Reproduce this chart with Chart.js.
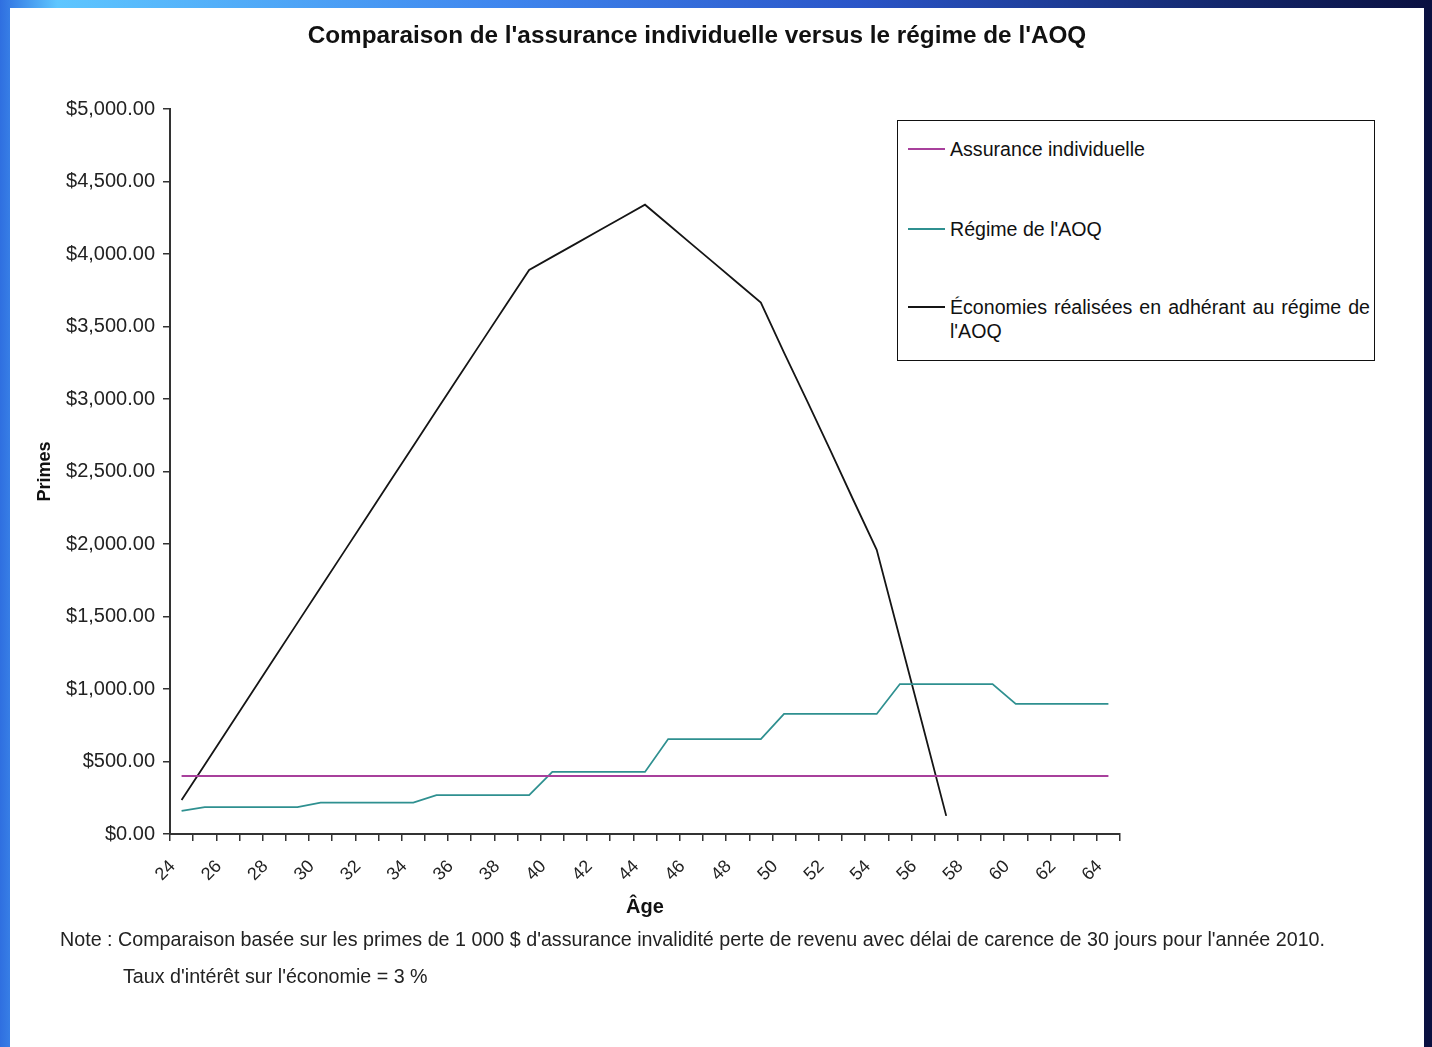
<!DOCTYPE html>
<html>
<head>
<meta charset="utf-8">
<script src="https://cdn.jsdelivr.net/npm/chart.js@4.4.1/dist/chart.umd.min.js"></script>
<style>
  html, body { margin: 0; padding: 0; }
  body {
    width: 1432px; height: 1047px; overflow: hidden; position: relative;
    background: linear-gradient(90deg, #2f6fe0 0%, #5ec6ff 4%, #3f86ee 35%, #2a55c8 60%, #14286e 85%, #0a1040 100%);
    font-family: "Liberation Sans", Arial, sans-serif;
  }
  #panel { position: absolute; left: 10px; top: 8px; right: 8px; bottom: 0; background: #fff; }
  #wrap { position: absolute; left: 0; top: 0; width: 1432px; height: 1047px; }
  #title { position: absolute; left: 0; width: 1394px; top: 21px; text-align: center; font-weight: bold; font-size: 24.3px; color: #111; }
  #legend { position: absolute; left: 897px; top: 120px; width: 476px; height: 239px; border: 1px solid #111; background: #fff; }
  .item { position: absolute; left: 10px; font-size: 19.6px; color: #111; }
  .item .swatch { position: absolute; left: 0; top: 11px; width: 37px; height: 2px; }
  .item .txt { position: absolute; left: 42px; width: 420px; line-height: 24px; text-align: justify; }
  .note { position: absolute; font-size: 19.7px; color: #222; }
</style>
</head>
<body>
<div id="panel"></div>
<div id="wrap"><canvas id="chart" width="1432" height="1047"></canvas></div>
<div id="title">Comparaison de l'assurance individuelle versus le régime de l'AOQ</div>
<div id="legend"></div>
<div class="note" style="left:60px; top:928px;">Note : Comparaison basée sur les primes de 1 000 $ d'assurance invalidité perte de revenu avec délai de carence de 30 jours pour l'année 2010.</div>
<div class="note" style="left:123px; top:965px;">Taux d'intérêt sur l'économie = 3 %</div>
<script>
// ages (axe des x)
var ages = [24,25,26,27,28,29,30,31,32,33,34,35,36,37,38,39,40,41,42,43,44,45,46,47,48,49,50,51,52,53,54,55,56,57,58,59,60,61,62,63,64];

// primes
var assurance = [400,400,400,400,400,400,400,400,400,400,400,400,400,400,400,400,400,400,400,400,400,400,400,400,400,400,400,400,400,400,400,400,400,400,400,400,400,400,400,400,400];
var regimeAOQ = [160,185,185,185,185,185,216,216,216,216,216,268,268,268,268,268,428,428,428,428,428,655,655,655,655,655,828,828,828,828,828,1034,1034,1034,1034,1034,897,897,897,897,897];
var economies = [235,478,722,967,1212,1456,1700,1944,2188,2432,2676,2920,3163,3406,3648,3890,3980,4070,4160,4250,4340,4205,4070,3935,3800,3665,3320,2985,2645,2300,1960,1350,740,125,null,null,null,null,null,null,null];

var labels = ["Assurance individuelle", "Régime de l'AOQ", "Économies réalisées en adhérant au régime de l'AOQ"];
var couleurs = ["#a8409c", "#2f9090", "#151515"];

var tickFont = { family: "'Liberation Sans', Arial, sans-serif", size: 20 };

var chart = new Chart(document.getElementById("chart"), {
  type: 'line',
  data: {
    labels: ages,
    datasets: [
      { label: labels[0], data: assurance, borderColor: couleurs[0], borderWidth: 1.8, pointRadius: 0, fill: false, tension: 0 },
      { label: labels[1], data: regimeAOQ, borderColor: couleurs[1], borderWidth: 1.8, pointRadius: 0, fill: false, tension: 0 },
      { label: labels[2], data: economies, borderColor: couleurs[2], borderWidth: 1.8, pointRadius: 0, fill: false, tension: 0, spanGaps: false }
    ]
  },
  options: {
    responsive: false,
    animation: false,
    events: [],
    layout: { padding: { left: 30, top: 109, right: 312, bottom: 118 } },
    plugins: { legend: { display: false }, title: { display: false }, tooltip: { enabled: false } },
    scales: {
      x: {
        offset: true,
        grid: { offset: true, drawOnChartArea: false, drawTicks: true, tickLength: 7, color: '#333', lineWidth: 1.5 },
        border: { display: true, color: '#333', width: 2 },
        ticks: {
          autoSkip: false, maxRotation: 45, minRotation: 45, padding: 15, labelOffset: -9, color: '#222',
          font: { family: tickFont.family, size: 18 },
          callback: function (v, i) { return i % 2 === 0 ? String(ages[i]) : ''; }
        },
        title: { display: true, text: 'Âge', color: '#111', font: { family: tickFont.family, size: 20, weight: 'bold' }, padding: { top: 0, bottom: 10 } },
        afterFit: function (s) { s.height = 95; }
      },
      y: {
        min: 0, max: 5000,
        grid: { drawOnChartArea: false, drawTicks: true, tickLength: 7, color: '#333', lineWidth: 1.5 },
        border: { display: true, color: '#333', width: 2 },
        ticks: {
          stepSize: 500, padding: 8, color: '#222', font: tickFont,
          callback: function (v) { return '$' + v.toLocaleString('en-US', { minimumFractionDigits: 2, maximumFractionDigits: 2 }); }
        },
        title: { display: true, text: 'Primes', color: '#111', font: { family: tickFont.family, size: 18, weight: 'bold' }, padding: { top: 4, bottom: 0 } },
        afterFit: function (s) { s.width = 140; }
      }
    }
  }
});

// légende à partir des séries
var leg = document.getElementById('legend');
var tops = [16, 96, 174];
chart.data.datasets.forEach(function (ds, i) {
  var d = document.createElement('div');
  d.className = 'item';
  d.style.top = tops[i] + 'px';
  d.innerHTML = '<div class="swatch" style="background:' + ds.borderColor + '"></div><div class="txt"></div>';
  d.querySelector('.txt').textContent = ds.label;
  leg.appendChild(d);
});
</script>
</body>
</html>
